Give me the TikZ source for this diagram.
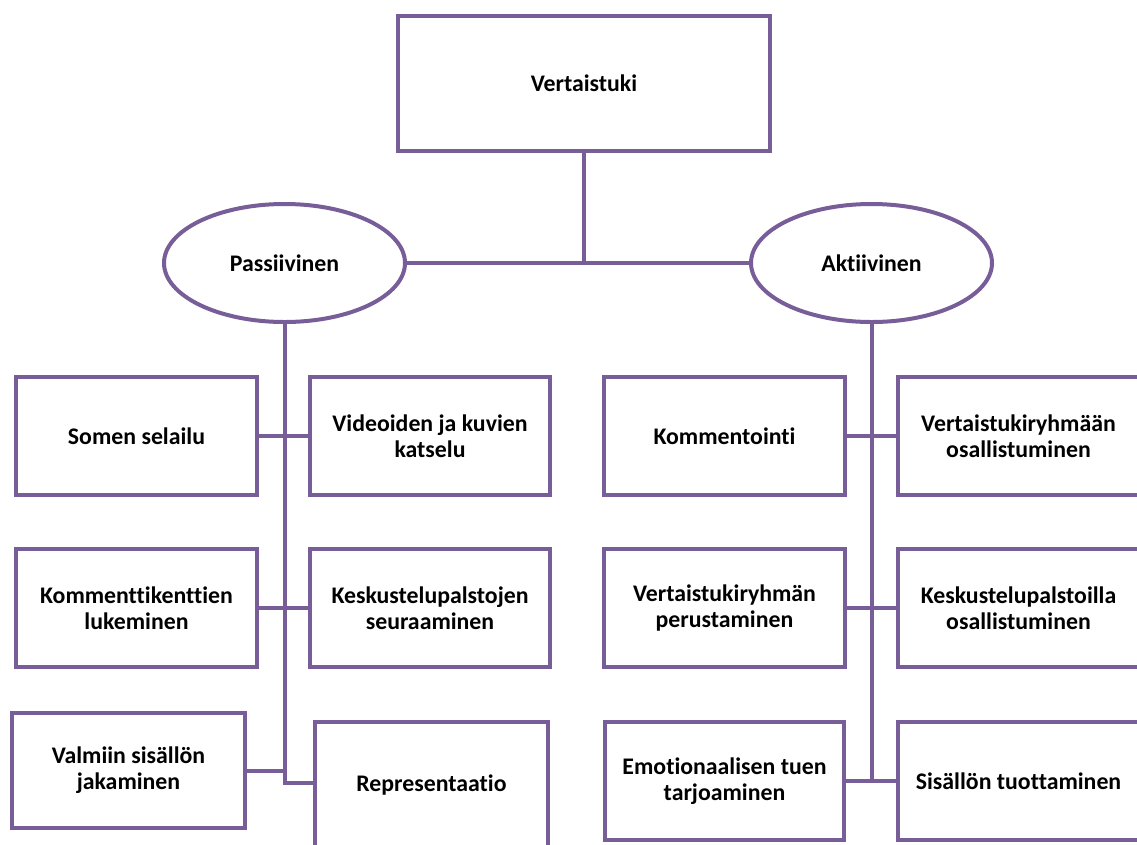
\documentclass[tikz,border=0pt]{standalone}
\usepackage{fontspec}
\setmainfont{Carlito}[Ligatures=NoCommon]
\usetikzlibrary{shapes.geometric}
\definecolor{vio}{RGB}{120,94,152}
\begin{document}
\begin{tikzpicture}[x=1pt,y=-1pt,
  every node/.style={font=\fontsize{23.8}{26}\selectfont\bfseries, align=center, inner sep=0pt},
  box/.style={draw=vio, line width=4pt, fill=white, rectangle},
  oval/.style={draw=vio, line width=4pt, fill=white, ellipse, minimum width=241pt, minimum height=118pt},
  conn/.style={draw=vio, line width=4pt}]
\useasboundingbox (0,0) rectangle (1137,844);
\clip (0,0) rectangle (1137,844);
\coordinate (pj) at (284.5,770.5);
\coordinate (av) at (871.5,781);
\coordinate (tb) at (584,263);
% top
\node[box, minimum width=372pt, minimum height=135pt] (top) at (584,83.5) {Vertaistuki};
\node[oval] (pas) at (284.5,263) {Passiivinen};
\node[oval] (akt) at (871.5,263) {Aktiivinen};
\draw[conn] (top.south) -- (tb);
\draw[conn] (pas.east) -- (akt.west);
% left column
\node[box, minimum width=241pt, minimum height=118pt] (l1) at (136.5,436) {Somen selailu};
\node[box, minimum width=240pt, minimum height=118pt] (r1) at (430,436) {Videoiden ja kuvien\\katselu};
\node[box, minimum width=241pt, minimum height=118pt] (l2) at (136.5,608) {Kommenttikenttien\\lukeminen};
\node[box, minimum width=240pt, minimum height=118pt] (r2) at (430,608) {Keskustelupalstojen\\seuraaminen};
\node[box, minimum width=233pt, minimum height=115pt] (l3) at (128.5,770.5) {Valmiin sisällön\\jakaminen};
\node[box, minimum width=233pt, minimum height=126pt] (r3) at (431.5,785) {Representaatio};
\coordinate (pv) at (284.5,783);
\draw[conn] (pas.south) |- (pv -| r3.west);
\draw[conn] (l1.east) -- (r1.west);
\draw[conn] (l2.east) -- (r2.west);
\draw[conn] (l3.east) -- (pj);
% right column
\node[box, minimum width=241pt, minimum height=118pt] (k1) at (724.5,436) {Kommentointi};
\node[box, minimum width=241pt, minimum height=118pt] (s1) at (1018.5,436) {Vertaistukiryhmään\\osallistuminen};
\node[box, minimum width=241pt, minimum height=118pt] (k2) at (724.5,608) {Vertaistukiryhmän\\perustaminen};
\node[box, minimum width=241pt, minimum height=118pt] (s2) at (1018.5,608) {Keskustelupalstoilla\\osallistuminen};
\node[box, minimum width=239pt, minimum height=118pt] (k3) at (724.5,781) {Emotionaalisen tuen\\tarjoaminen};
\node[box, minimum width=241pt, minimum height=118pt] (s3) at (1018.5,781) {Sisällön tuottaminen};
\draw[conn] (akt.south) -- (av);
\draw[conn] (k1.east) -- (s1.west);
\draw[conn] (k2.east) -- (s2.west);
\draw[conn] (k3.east) -- (s3.west);
\end{tikzpicture}
\end{document}
